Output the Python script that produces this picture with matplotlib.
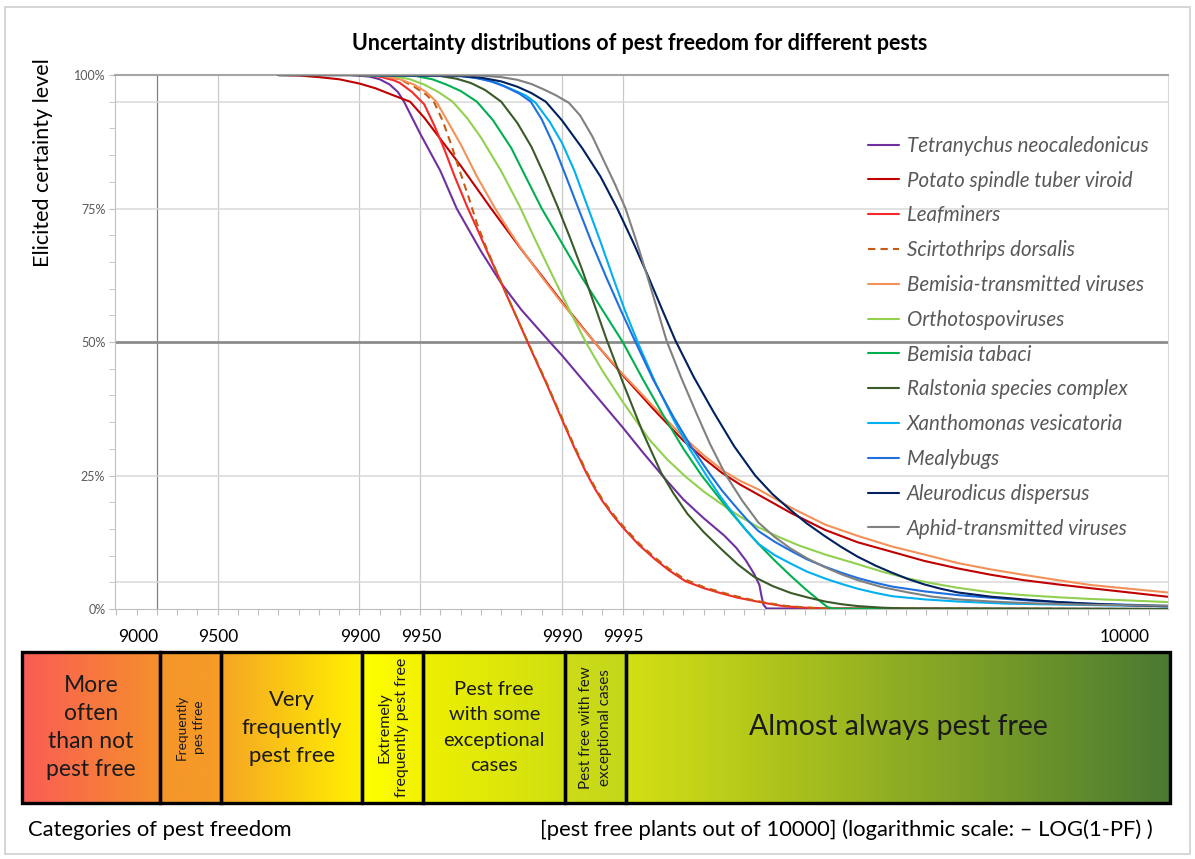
import numpy as np
import matplotlib.pyplot as plt
from matplotlib.patches import Rectangle
from matplotlib.colors import LinearSegmentedColormap
from matplotlib.ticker import MultipleLocator

plt.rcParams['font.family'] = ['Lato', 'DejaVu Sans']

# x = -LOG10(1-PF), y = elicited certainty level in %
tetra_x = [1.6, 1.95, 2.05, 2.1, 2.15, 2.19, 2.22, 2.26, 2.3, 2.35, 2.4, 2.44, 2.48, 2.54, 2.6,
           2.65, 2.7, 2.75, 2.8, 2.87, 2.94, 3.0, 3.1, 3.2, 3.3, 3.4, 3.5, 3.6, 3.7, 3.8,
           3.86, 3.91, 3.95, 3.975, 3.985, 3.995, 4.01, 6.0]
tetra_y = [100, 100, 99.7, 99.2, 98.2, 96.8, 95, 92, 89, 85.5, 82, 78.5, 75, 71, 67,
           64, 61, 58.5, 56, 53, 50, 47.5, 43, 38.5, 34, 29.3, 24.8, 20.5, 17, 13.8,
           11.5, 9, 6.5, 4.5, 2.5, 0.8, 0.1, 0]

pstvd_x = [1.6, 1.7, 1.8, 1.9, 2.0, 2.08, 2.16, 2.25, 2.32, 2.4, 2.5, 2.65, 2.8, 3.0, 3.16,
           3.3, 3.45, 3.6, 3.7, 3.79, 3.88, 3.97, 4.13, 4.3, 4.46, 4.63, 4.79, 4.955, 5.12,
           5.28, 5.45, 5.61, 5.8, 5.99]
pstvd_y = [100, 99.9, 99.6, 99.2, 98.4, 97.5, 96.3, 95, 92, 88, 83, 75, 67.3, 57.5, 50,
           43.8, 37.5, 31.5, 28.2, 25.5, 23.3, 21.4, 18, 14.8, 12.5, 10.7, 9, 7.6, 6.4,
           5.4, 4.6, 3.9, 3.1, 2.3]

leaf_x = [1.6, 2.0, 2.1, 2.17, 2.2, 2.26, 2.32, 2.37, 2.42, 2.47, 2.53, 2.58, 2.63, 2.68,
          2.73, 2.78, 2.83, 2.88, 2.92, 2.96, 3.0, 3.06, 3.12, 3.16, 3.2, 3.25, 3.3, 3.38,
          3.46, 3.53, 3.61, 3.7, 3.79, 3.87, 3.95, 4.02, 4.1, 4.2, 4.3, 6.0]
leaf_y = [100, 100, 99.7, 99, 98.5, 96.8, 94.5, 90.5, 86, 81, 75.5, 71.3, 67, 62.8,
          58.5, 54.3, 50, 45.8, 42.5, 39, 35.5, 30.3, 25.5, 22.7, 20.2, 17.6, 15.3, 12,
          9.3, 7.2, 5.2, 3.9, 2.9, 2.1, 1.5, 1.0, 0.5, 0.25, 0.1, 0]

scirto_x = [1.6, 2.0, 2.12, 2.2, 2.27, 2.33, 2.37, 2.41, 2.45, 2.5, 2.54, 2.58, 2.63, 2.68,
            2.73, 2.78, 2.83, 2.88, 2.92, 2.96, 3.0, 3.06, 3.12, 3.16, 3.2, 3.25, 3.3, 3.38,
            3.46, 3.53, 3.61, 3.7, 3.79, 3.87, 3.95, 4.02, 4.1, 4.2, 4.3, 6.0]
scirto_y = [100, 100, 99.8, 99.2, 97.8, 96.3, 94.8, 91.5, 87.3, 81.5, 77, 72.2, 67.3, 62.9,
            58.6, 54.3, 50.1, 46, 42.7, 39.2, 35.8, 30.6, 25.8, 23, 20.5, 17.9, 15.6, 12.3,
            9.6, 7.5, 5.5, 4.1, 3.1, 2.3, 1.6, 1.1, 0.6, 0.3, 0.1, 0]

bemvir_x = [1.6, 2.0, 2.12, 2.2, 2.27, 2.33, 2.38, 2.44, 2.5, 2.58, 2.67, 2.74, 2.8, 2.9,
            3.0, 3.08, 3.16, 3.3, 3.45, 3.6, 3.7, 3.8, 3.88, 3.97, 4.13, 4.3, 4.46, 4.63,
            4.79, 4.955, 5.12, 5.28, 5.45, 5.61, 5.8, 5.99]
bemvir_y = [100, 100, 99.8, 99.2, 98.2, 96.8, 95, 91, 87, 81, 75, 70.8, 67.4, 62.2,
            57.3, 53.6, 50, 44, 38, 32.2, 28.8, 25.8, 24, 22.4, 19, 15.8, 13.7, 11.7,
            10.2, 8.6, 7.4, 6.4, 5.4, 4.5, 3.8, 3.1]

ortho_x = [1.6, 2.0, 2.17, 2.25, 2.32, 2.39, 2.46, 2.53, 2.6, 2.7, 2.79, 2.87, 2.95, 3.03,
           3.117, 3.2, 3.3, 3.43, 3.52, 3.61, 3.7, 3.79, 3.88, 3.97, 4.07, 4.17, 4.3, 4.46,
           4.58, 4.71, 4.83, 4.95, 5.12, 5.28, 5.45, 5.6, 5.8, 5.99]
ortho_y = [100, 100, 99.8, 99.2, 98.2, 96.8, 95, 92, 88.3, 82, 75.5, 69, 62.7, 56.5,
           50, 44.6, 38.8, 31.8, 28, 24.8, 22, 19.6, 17.3, 15.3, 13.5, 11.9, 10.2, 8.4,
           7, 5.7, 4.8, 4.0, 3.1, 2.6, 2.2, 1.9, 1.6, 1.3]

btabaci_x = [1.6, 2.0, 2.28, 2.36, 2.43, 2.5, 2.58, 2.66, 2.75, 2.82, 2.9, 3.0, 3.1, 3.2,
             3.3, 3.4, 3.5, 3.6, 3.69, 3.76, 3.83, 3.9, 3.97, 4.05, 4.13, 4.2, 4.27, 4.31,
             4.34, 6.0]
btabaci_y = [100, 100, 99.8, 99.2, 98.2, 97, 95, 91.5, 86.3, 81, 75, 68.5, 62, 56,
             50, 43, 36.3, 30, 25, 21.6, 18.3, 15.2, 12.2, 9.1, 6.2, 3.8, 1.6, 0.4,
             0.05, 0]

ralst_x = [1.6, 2.0, 2.4, 2.48, 2.55, 2.62, 2.7, 2.78, 2.85, 2.91, 2.977, 3.04, 3.1, 3.16,
           3.22, 3.3, 3.4, 3.49, 3.55, 3.62, 3.7, 3.79, 3.87, 3.95, 4.04, 4.13, 4.22, 4.3,
           4.38, 4.46, 4.58, 4.7, 6.0]
ralst_y = [100, 100, 99.8, 99.3, 98.5, 97.2, 95, 91, 86.5, 81.5, 75.5, 69.5, 63.5, 57,
           50.5, 42.5, 33, 25.5, 21.7, 17.8, 14.4, 11.1, 8.3, 6.0, 4.3, 3.0, 2.1, 1.4,
           0.9, 0.55, 0.25, 0.1, 0]

xantho_x = [1.6, 2.0, 2.52, 2.6, 2.68, 2.76, 2.82, 2.87, 2.94, 3.0, 3.06, 3.125, 3.19, 3.25,
            3.31, 3.379, 3.46, 3.55, 3.63, 3.71, 3.78, 3.85, 3.91, 3.97, 4.05, 4.13, 4.21,
            4.3, 4.38, 4.46, 4.55, 4.63, 4.79, 4.955, 5.2, 5.5, 5.99]
xantho_y = [100, 100, 99.8, 99.3, 98.5, 97.2, 96.2, 94.8, 91.2, 87.3, 82.2, 75.5, 68.8, 62.3,
            56, 49.5, 42.5, 35.5, 30, 25.2, 21.2, 17.6, 14.7, 12.2, 10.1, 8.5, 7.0,
            5.7, 4.7, 3.8, 3.0, 2.4, 1.8, 1.4, 1.0, 0.8, 0.5]

mealy_x = [1.6, 2.0, 2.5, 2.58, 2.65, 2.72, 2.79, 2.846, 2.9, 2.96, 3.02, 3.076, 3.15, 3.22,
           3.29, 3.363, 3.45, 3.55, 3.64, 3.73, 3.79, 3.85, 3.91, 3.97, 4.05, 4.13, 4.21,
           4.3, 4.38, 4.46, 4.55, 4.63, 4.79, 4.955, 5.12, 5.3, 5.6, 5.99]
mealy_y = [100, 100, 99.8, 99.4, 98.8, 97.8, 96.5, 95, 91.7, 86.8, 81, 75.5, 68.3, 62,
           56, 50, 43, 36, 30.3, 25.3, 22.2, 19.5, 16.9, 14.6, 12.6, 10.9, 9.3,
           7.9, 6.8, 5.8, 4.9, 4.2, 3.3, 2.6, 2.1, 1.6, 1.0, 0.6]

aleuro_x = [1.6, 2.0, 2.5, 2.6, 2.7, 2.78, 2.85, 2.92, 3.0, 3.1, 3.19, 3.273, 3.35, 3.42,
            3.49, 3.56, 3.65, 3.75, 3.85, 3.954, 4.04, 4.13, 4.21, 4.3, 4.38, 4.46, 4.55,
            4.63, 4.71, 4.79, 4.87, 4.955, 5.12, 5.28, 5.45, 5.6, 5.8, 5.99]
aleuro_y = [100, 100, 99.8, 99.5, 98.8, 97.8, 96.6, 95, 91.5, 86.3, 81, 75, 68.8, 62.8,
            56.5, 50.3, 43.5, 36.8, 30.5, 25, 21.5, 18.5, 16, 13.6, 11.6, 9.8, 8.1,
            6.8, 5.6, 4.6, 3.8, 3.1, 2.3, 1.8, 1.3, 1.0, 0.7, 0.5]

aphid_x = [1.6, 2.0, 2.6, 2.7, 2.78, 2.85, 2.91, 2.97, 3.034, 3.09, 3.15, 3.2, 3.26, 3.314,
           3.37, 3.42, 3.47, 3.517, 3.59, 3.66, 3.73, 3.806, 3.89, 3.97, 4.05, 4.13, 4.21,
           4.3, 4.38, 4.46, 4.58, 4.71, 4.83, 4.955, 5.12, 5.3, 5.6, 5.99]
aphid_y = [100, 100, 99.9, 99.6, 99.1, 98.3, 97.3, 96.2, 94.8, 92.4, 88.5, 84.5, 79.7, 75,
           68.6, 62.5, 56.2, 50.2, 43.2, 37, 31, 25.3, 20.3, 16.2, 13.5, 11.3, 9.5,
           7.8, 6.5, 5.4, 4.1, 3.1, 2.3, 1.8, 1.4, 1.1, 0.8, 0.6]

pest_names = ['Tetranychus neocaledonicus', 'Potato spindle tuber viroid', 'Leafminers',
              'Scirtothrips dorsalis', 'Bemisia-transmitted viruses', 'Orthotospoviruses',
              'Bemisia tabaci', 'Ralstonia species complex', 'Xanthomonas vesicatoria',
              'Mealybugs', 'Aleurodicus dispersus', 'Aphid-transmitted viruses']
pest_x = [tetra_x, pstvd_x, leaf_x, scirto_x, bemvir_x, ortho_x,
          btabaci_x, ralst_x, xantho_x, mealy_x, aleuro_x, aphid_x]
pest_y = [tetra_y, pstvd_y, leaf_y, scirto_y, bemvir_y, ortho_y,
          btabaci_y, ralst_y, xantho_y, mealy_y, aleuro_y, aphid_y]
pest_colors = ['#7030A0', '#C00000', '#F5282A', '#C55A11', '#F39158', '#92D050',
               '#00B050', '#3A5A28', '#00B0F0', '#1F6FDF', '#002060', '#808080']

# category thresholds (pest free plants out of 10000)
thresholds = [9000, 9500, 9900, 9950, 9990, 9995]
cat_labels = ['More\noften\nthan not\npest free', 'Frequently\npes tfree',
              'Very\nfrequently\npest free', 'Extremely\nfrequently pest free',
              'Pest free\nwith some\nexceptional\ncases', 'Pest free with few\nexceptional cases',
              'Almost always pest free']
cat_colors = [('#FA5C55', '#F5902C'), ('#F5962A', '#F59C28'), ('#F6A524', '#FFF200'),
              ('#FFFF00', '#F2F200'), ('#EEF000', '#D0DF12'), ('#CDDC18', '#C4D71A'),
              ('#D4E014', '#4A7A32')]
cat_sizes = [16.5, 9.8, 15.8, 11.5, 14.5, 11, 20.5]
cat_spacing = [1.4, 1.45, 1.5, 1.3, 1.6, 1.4, 1.0]

W, H = 1195, 859
fig = plt.figure(figsize=(W / 100, H / 100), dpi=100)

ax = fig.add_axes([115 / W, 1 - 609 / H, (1168 - 115) / W, (609 - 75) / H])
ax.set_xlim(0.7926, 5.993)
ax.set_ylim(0, 100)

tx = [-np.log10(1 - t / 10000) for t in thresholds]
for i, t in enumerate(tx):
    ax.axvline(t, color='#808080' if i == 0 else '#C8C8C8', lw=0.9, zorder=1)
for yv in [5, 25, 75, 95]:
    ax.axhline(yv, color='#D9D9D9', lw=1.1, zorder=1)
ax.axhline(50, color='#8C8C8C', lw=2.0, zorder=1)

for name, xs, ys, c in zip(pest_names, pest_x, pest_y, pest_colors):
    ls = (0, (3.5, 2.5)) if name == 'Scirtothrips dorsalis' else '-'
    ax.plot(xs, ys, color=c, lw=1.5, ls=ls, label=name, zorder=3,
            solid_joinstyle='round', solid_capstyle='round')

ax.xaxis.set_major_locator(MultipleLocator(0.1))
ax.tick_params(axis='x', length=4, color='#BFBFBF', labelbottom=False)
ax.set_yticks([0, 25, 50, 75, 100])
ax.set_yticklabels(['0%', '25%', '50%', '75%', '100%'])
ax.yaxis.set_minor_locator(MultipleLocator(5))
ax.tick_params(axis='y', which='both', length=4, color='#BFBFBF', labelsize=9,
               labelcolor='#595959', pad=3)
for s in ['left', 'bottom']:
    ax.spines[s].set_color('#BFBFBF')
ax.spines['right'].set_color('#D9D9D9')
ax.spines['top'].set_color('#A6A6A6')
ax.spines['top'].set_linewidth(1.5)

leg = ax.legend(loc='upper left', bbox_to_anchor=(0.715, 0.886), frameon=False,
                fontsize=14.8, labelspacing=0.72, handlelength=1.5, handletextpad=0.4,
                borderpad=0, borderaxespad=0)
for txt in leg.get_texts():
    txt.set_color('#595959')
    txt.set_style('italic')

fig.text(640 / W, 1 - 44 / H, 'Uncertainty distributions of pest freedom for different pests',
         ha='center', va='center', fontsize=15.5, weight='bold')
fig.text(43 / W, 1 - 163 / H, 'Elicited certainty level', rotation=90,
         ha='center', va='center', fontsize=15.5)

# category bar
bx = fig.add_axes([22 / W, 1 - 803 / H, (1170 - 22) / W, 151 / H])
x0, x1 = 0.3185, 5.988
edges = [x0] + tx + [x1]
grad = np.linspace(0, 1, 256)[None, :]
for i, (lab, (c0, c1)) in enumerate(zip(cat_labels, cat_colors)):
    e0, e1 = edges[i], edges[i + 1]
    cmap = LinearSegmentedColormap.from_list('c%d' % i, [c0, c1])
    bx.imshow(grad, extent=(e0, e1, 0, 1), aspect='auto', cmap=cmap, zorder=1)
    bx.add_patch(Rectangle((e0, 0), e1 - e0, 1, fill=False, ec='black', lw=2.4,
                           clip_on=False, zorder=3))
    rot = 90 if i in (1, 3, 5) else 0
    bx.text((e0 + e1) / 2, 0.5, lab, rotation=rot, ha='center', va='center',
            fontsize=cat_sizes[i], linespacing=cat_spacing[i], color='#1A1A1A')
bx.set_xlim(x0, x1)
bx.set_ylim(0, 1)
bx.axis('off')

for i, (t, v) in enumerate(zip(tx, thresholds)):
    if i == 0:
        bx.text(t - 0.01, 1.1, str(v), ha='right', va='center', fontsize=12.5)
    else:
        bx.text(t - 0.012, 1.1, str(v), ha='center', va='center', fontsize=12.5)
bx.text(x1 - 0.1, 1.1, '10000', ha='right', va='center', fontsize=12.5)

fig.text(28 / W, 1 - 830 / H, 'Categories of pest freedom', fontsize=15.8, va='center')
fig.text(540 / W, 1 - 830 / H, '[pest free plants out of 10000] (logarithmic scale: \u2013 LOG(1-PF) )',
         fontsize=15.8, va='center')

fig.add_artist(Rectangle((5 / W, 1 - 854 / H), 1185 / W, 847 / H, transform=fig.transFigure,
                         fill=False, ec='#D0D0D0', lw=1.2))

fig.savefig('out.png', dpi=100)
